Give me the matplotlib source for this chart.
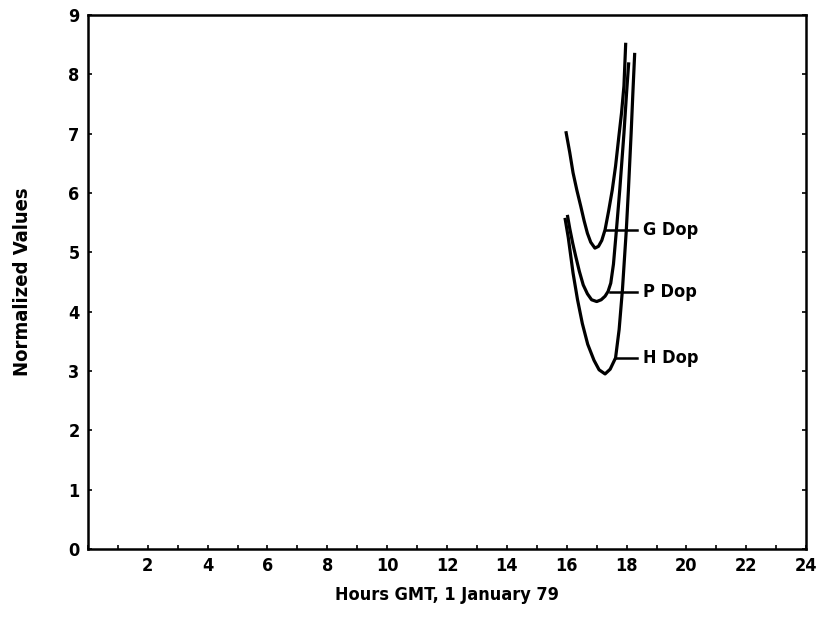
import matplotlib.pyplot as plt

# values
g_hours = [15.97, 16.1, 16.21, 16.34, 16.47, 16.58, 16.69, 16.8, 16.94, 17.06,
           17.17, 17.28, 17.4, 17.52, 17.63, 17.74, 17.83, 17.91, 17.97]
g_dop = [7.04, 6.68, 6.34, 6.04, 5.77, 5.53, 5.32, 5.17, 5.07, 5.1,
         5.2, 5.38, 5.7, 6.05, 6.45, 6.95, 7.35, 7.8, 8.53]

p_hours = [16.02, 16.1, 16.2, 16.3, 16.42, 16.55, 16.69, 16.83, 17.0, 17.15,
           17.28, 17.38, 17.47, 17.56, 17.66, 17.77, 17.91, 18.0, 18.07]
p_dop = [5.63, 5.4, 5.15, 4.93, 4.68, 4.45, 4.3, 4.2, 4.17, 4.2,
         4.26, 4.34, 4.48, 4.8, 5.38, 6.05, 7.0, 7.7, 8.2]

h_hours = [15.94, 16.05, 16.21, 16.36, 16.52, 16.7, 16.91, 17.08, 17.28, 17.45,
           17.63, 17.75, 17.86, 17.99, 18.06, 18.15, 18.21, 18.27]
h_dop = [5.58, 5.25, 4.65, 4.2, 3.8, 3.45, 3.18, 3.02, 2.95, 3.03,
         3.22, 3.7, 4.37, 5.38, 6.05, 7.0, 7.7, 8.36]

labels = ["G Dop", "P Dop", "H Dop"]
label_hits = [(17.28, 5.38), (17.45, 4.33), (17.63, 3.22)]

x_ticks = list(range(2, 25, 2))
y_ticks = list(range(0, 10))

font = dict(family="DejaVu Sans", fontstretch="condensed", fontweight="bold")

fig = plt.figure(figsize=(8.21, 6.19), dpi=100)
ax = fig.add_axes([0.107, 0.113, 0.875, 0.863])

for xs, ys in [(g_hours, g_dop), (p_hours, p_dop), (h_hours, h_dop)]:
    ax.plot(xs, ys, color="black", lw=2.3, solid_capstyle="butt",
            solid_joinstyle="round")

# leader lines and labels
for lab, (hx, hy) in zip(labels, label_hits):
    ax.plot([hx, 18.35], [hy, hy], color="black", lw=1.8)
    ax.text(18.55, hy, lab, fontsize=13, va="center", ha="left", **font)

ax.set_xlim(0, 24)
ax.set_ylim(0, 9)
ax.set_xticks(range(0, 25))
ax.set_xticklabels([str(t) if t in x_ticks else "" for t in range(0, 25)])
ax.set_yticks(y_ticks)
ax.set_yticklabels([str(t) for t in y_ticks])
ax.tick_params(direction="in", length=3, width=1.2, top=False, right=True,
               labelsize=13, pad=6)
for lbl in ax.get_xticklabels() + ax.get_yticklabels():
    lbl.set_fontweight("bold")
    lbl.set_fontstretch("condensed")

for sp in ax.spines.values():
    sp.set_linewidth(1.8)

ax.set_xlabel("Hours GMT, 1 January 79", fontsize=13, labelpad=8, **font)
ax.set_ylabel("Normalized Values", fontsize=14.5, labelpad=26, **font)

plt.savefig("out.png", dpi=100)
